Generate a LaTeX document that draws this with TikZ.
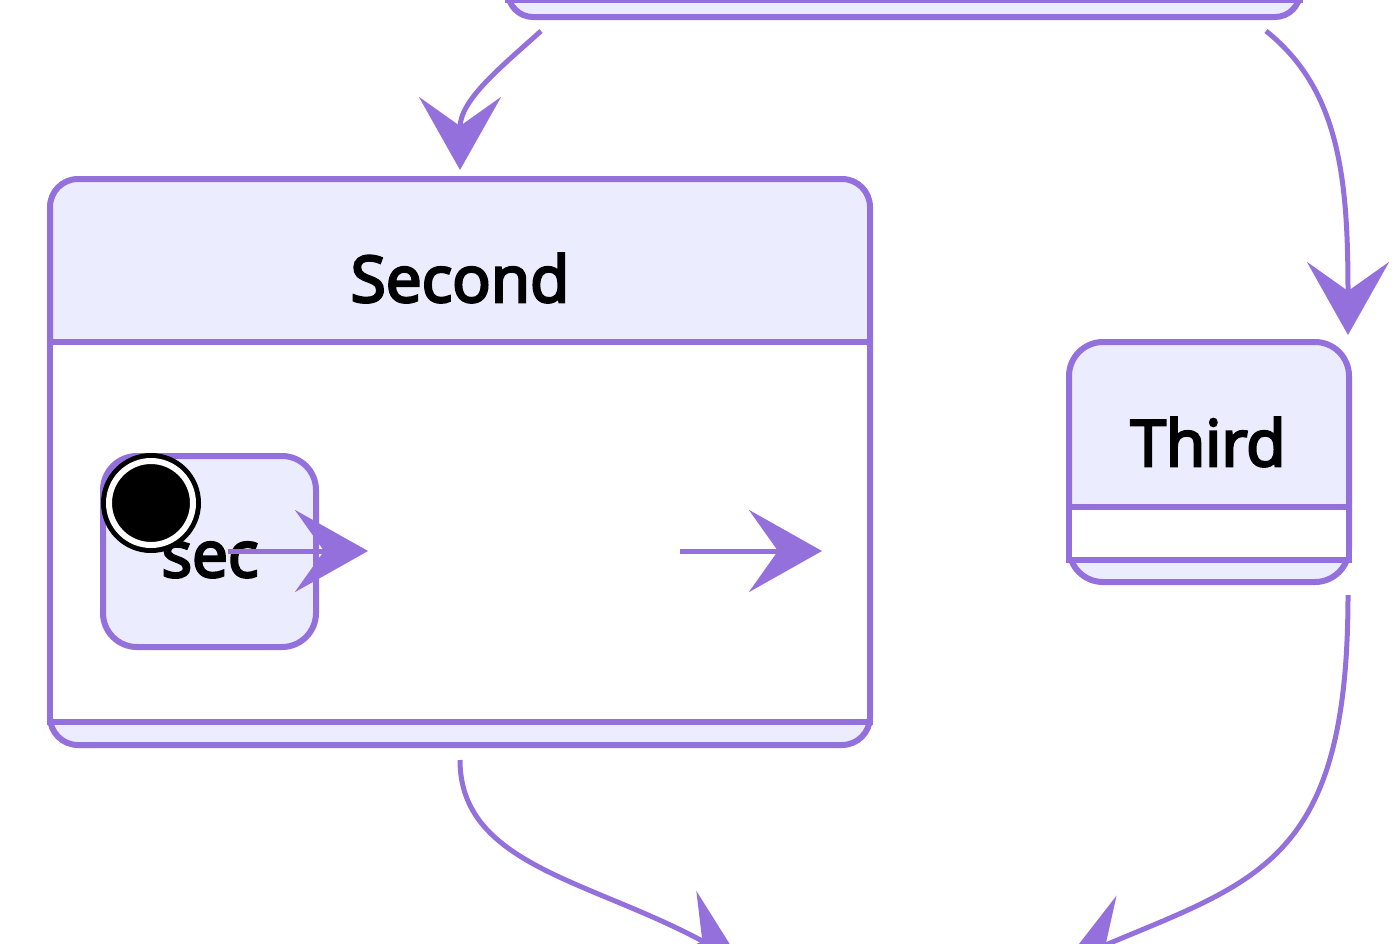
\documentclass[tikz,border=0pt]{standalone}
\usepackage{fontspec}
\newfontfamily\lblfont{Open Sans}[FakeBold=4]
\usetikzlibrary{arrows.meta}
\definecolor{mline}{HTML}{9370DB}
\definecolor{mfill}{HTML}{ECECFF}
\begin{document}
\begin{tikzpicture}[x=1pt,y=-1pt,
  statebox/.style={draw=mline, fill=mfill, line width=6pt, rectangle, inner sep=0pt, rounded corners=#1},
  bodybox/.style={draw=mline, fill=white, line width=6pt},
  lbl/.style={inner sep=0pt, anchor=base, font=\lblfont\fontsize{64}{70}\selectfont},
  barb/.tip={Stealth[length=73pt,width=82pt,inset=29pt]},
  conn/.style={draw=mline, line width=5pt, -{barb[fill=mline]}, line join=miter},
]
\useasboundingbox (0,0) rectangle (1400,943);
\clip (0,0) rectangle (1400,943);

% top composite state (only its bottom visible)
\node[statebox=25pt, minimum width=792pt, minimum height=117pt] (first) at (904,-41.5) {};
\path[bodybox] (508,-60) rectangle (1300,0);

% Second composite state
\node[statebox=28pt, minimum width=820pt, minimum height=566pt] (second) at (460,462) {};
\path[bodybox] (50,342) rectangle (870,722);
\node[lbl] (secondlbl) at (460,302) {Second};

% inner state sec
\node[statebox=34pt, minimum width=213pt, minimum height=191pt] (sec) at (209.5,551.5) {};
\node[lbl] (seclbl) at (210,577) {sec};

% start state
\node[circle, fill=black, minimum size=100pt, inner sep=0pt] (start) at (151,503) {};
\draw[white, line width=6pt] (start.center) circle (42);

% Third state
\node[statebox=34pt, minimum width=280pt, minimum height=240pt] (third) at (1209,462) {};
\path[bodybox] (1069,507) rectangle (1349,560);
\node[lbl] (thirdlbl) at (1208,466) {Third};

% connector end points
\coordinate (a1s) at (541,31);
\coordinate (a1e) at (460,170);
\coordinate (a2s) at (1266,31);
\coordinate (a2e) at (1348,335);
\coordinate (a3s) at (460,760);
\coordinate (a3e) at (741,962);
\coordinate (a4s) at (1348,595);
\coordinate (a4e) at (1065,962);
\coordinate (i1s) at (228,551);
\coordinate (i1e) at (368,551);
\coordinate (i2s) at (680,551);
\coordinate (i2e) at (822,551);

\draw[conn] (a1s) .. controls (500,68) and (460,100) .. (a1e);
\draw[conn] (a2s) .. controls (1340,90) and (1348,180) .. (a2e);
\draw[conn] (a3s) .. controls (460,865) and (590,880) .. (a3e);
\draw[conn] (a4s) .. controls (1348,860) and (1260,880) .. (a4e);
\draw[conn] (i1s) -- (i1e);
\draw[conn] (i2s) -- (i2e);
\end{tikzpicture}
\end{document}
